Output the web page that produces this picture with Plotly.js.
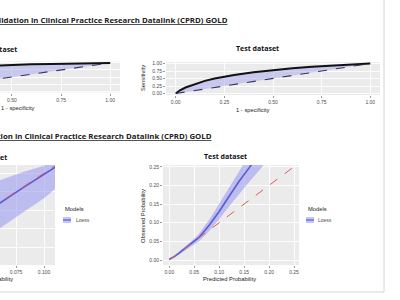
<!DOCTYPE html>
<html>
<head>
<meta charset="utf-8">
<script src="https://cdn.plot.ly/plotly-3.0.1.min.js"></script>
<style>html,body{margin:0;padding:0;background:#fff;}#chart{width:400px;height:300px;}</style>
</head>
<body>
<div id="chart"></div>
<script>
// ---------- DATA ----------
// ROC curves (false positive rate vs sensitivity)
const rocFpr = [0, 0.02, 0.05, 0.1, 0.15, 0.2, 0.25, 0.3, 0.4, 0.5, 0.6, 0.7, 0.8, 0.9, 1];
const rocTrainTpr = [0, 0.40, 0.60, 0.72, 0.79, 0.83, 0.86, 0.88, 0.91, 0.93, 0.95, 0.965, 0.978, 0.99, 1];
const rocTestTpr = [0, 0.10, 0.20, 0.32, 0.42, 0.50, 0.57, 0.62, 0.71, 0.78, 0.84, 0.89, 0.93, 0.97, 1];
const refLine = [0, 1];

// Calibration (training, mostly cropped)
const calTrainPred = [0, 0.02, 0.04, 0.06, 0.08, 0.10, 0.11];
const calTrainObs = [0.001, 0.02, 0.04, 0.059, 0.079, 0.098, 0.108];
const calTrainUpper = [0.01, 0.05, 0.075, 0.090, 0.101, 0.110, 0.118];
const calTrainLower = [-0.008, -0.005, 0.01, 0.025, 0.046, 0.066, 0.079];

// Calibration (test)
const calTestPred = [0, 0.01, 0.02, 0.03, 0.04, 0.05, 0.06, 0.08, 0.10, 0.12, 0.14, 0.16, 0.18, 0.20];
const calTestObs = [0.002, 0.009, 0.019, 0.029, 0.039, 0.049, 0.061, 0.093, 0.130, 0.171, 0.211, 0.247, 0.283, 0.320];
const calTestUpper = [0.005, 0.012, 0.023, 0.034, 0.045, 0.057, 0.071, 0.108, 0.151, 0.198, 0.244, 0.285, 0.326, 0.368];
const calTestLower = [0.000, 0.006, 0.015, 0.024, 0.033, 0.041, 0.051, 0.078, 0.109, 0.144, 0.178, 0.209, 0.240, 0.272];
const calRef = [0, 0.3];

const headerText = "Validation in Clinical Practice Research Datalink (CPRD) GOLD";
const legendTitle = "Models";
const legendItem = "Loess";

// ---------- STYLE ----------
const W = 400, H = 300;
const px = v => v / W;
const py = v => 1 - v / H;
const bg = '#ebebeb';
const tickFont = {family: 'Liberation Sans, Arial, sans-serif', size: 5, color: '#4d4d4d'};
const labFont = {family: 'Liberation Sans, Arial, sans-serif', size: 5.8, color: '#222'};
const ttlFont = {family: 'Open Sans, sans-serif', size: 7, color: '#111', weight: 700};
const hdrFont = {family: 'Open Sans, sans-serif', size: 7.8, color: '#222', weight: 700, lineposition: 'under'};
const rocFill = 'rgba(165,165,240,0.5)';
const bandFill = 'rgba(150,150,240,0.55)';
const loessCol = '#5a5ad4';
const dashCol = '#34346a';

function axis(domain, range, dtick, fmt, extra) {
  return Object.assign({
    domain: domain, range: range, dtick: dtick, tick0: 0, tickformat: fmt,
    showgrid: true, gridcolor: '#ffffff', gridwidth: 0.9,
    minor: {showgrid: true, gridcolor: '#f7f7f7', gridwidth: 0.5, nticks: 2},
    zeroline: false, showline: false, ticks: 'outside', ticklen: 2, tickwidth: 0.6,
    tickcolor: '#555', tickfont: tickFont, fixedrange: true, automargin: false
  }, extra || {});
}

const traces = [
  // Panel 1: training ROC
  {x: refLine, y: refLine, xaxis: 'x', yaxis: 'y', mode: 'lines', line: {width: 0}, showlegend: false, hoverinfo: 'skip'},
  {x: rocFpr, y: rocTrainTpr, xaxis: 'x', yaxis: 'y', mode: 'lines', fill: 'tonexty', fillcolor: rocFill, line: {color: '#111', width: 2}, showlegend: false},
  {x: refLine, y: refLine, xaxis: 'x', yaxis: 'y', mode: 'lines', line: {color: dashCol, width: 1.1, dash: 'dash'}, showlegend: false},
  // Panel 2: test ROC
  {x: refLine, y: refLine, xaxis: 'x2', yaxis: 'y2', mode: 'lines', line: {width: 0}, showlegend: false, hoverinfo: 'skip'},
  {x: rocFpr, y: rocTestTpr, xaxis: 'x2', yaxis: 'y2', mode: 'lines', fill: 'tonexty', fillcolor: rocFill, line: {color: '#111', width: 2}, showlegend: false},
  {x: refLine, y: refLine, xaxis: 'x2', yaxis: 'y2', mode: 'lines', line: {color: dashCol, width: 1.1, dash: 'dash'}, showlegend: false},
  // Panel 3: training calibration
  {x: calTrainPred, y: calTrainLower, xaxis: 'x3', yaxis: 'y3', mode: 'lines', line: {width: 0}, showlegend: false, hoverinfo: 'skip'},
  {x: calTrainPred, y: calTrainUpper, xaxis: 'x3', yaxis: 'y3', mode: 'lines', fill: 'tonexty', fillcolor: bandFill, line: {width: 0}, showlegend: false},
  {x: calTrainPred, y: calTrainObs, xaxis: 'x3', yaxis: 'y3', mode: 'lines', line: {color: loessCol, width: 1.6}, showlegend: false},
  {x: calRef, y: calRef, xaxis: 'x3', yaxis: 'y3', mode: 'lines', line: {color: '#e05a5a', width: 1, dash: 'dash'}, showlegend: false},
  // Panel 4: test calibration
  {x: calTestPred, y: calTestLower, xaxis: 'x4', yaxis: 'y4', mode: 'lines', line: {width: 0}, showlegend: false, hoverinfo: 'skip'},
  {x: calTestPred, y: calTestUpper, xaxis: 'x4', yaxis: 'y4', mode: 'lines', fill: 'tonexty', fillcolor: bandFill, line: {width: 0}, showlegend: false},
  {x: calTestPred, y: calTestObs, xaxis: 'x4', yaxis: 'y4', mode: 'lines', line: {color: loessCol, width: 1.6}, showlegend: false},
  {x: calRef, y: calRef, xaxis: 'x4', yaxis: 'y4', mode: 'lines', line: {color: '#e05a5a', width: 1, dash: 'dash'}, showlegend: false}
];

function ann(text, x, y, font, opts) {
  return Object.assign({text: text, x: px(x), y: py(y), xref: 'paper', yref: 'paper', showarrow: false,
    font: font, xanchor: 'center', yanchor: 'middle'}, opts || {});
}

const layout = {
  width: W, height: H,
  margin: {l: 0, r: 0, t: 0, b: 0, pad: 0},
  paper_bgcolor: '#ffffff', plot_bgcolor: bg, showlegend: false,
  xaxis: axis([0, px(120)], [0.439, 1.05], 0.25, '.2f', {anchor: 'y'}),
  yaxis: axis([py(92.5), py(61.5)], [-0.05, 1.05], 0.25, '.2f', {anchor: 'x', showticklabels: false, ticks: ''}),
  xaxis2: axis([px(166), px(380)], [-0.05, 1.05], 0.25, '.2f', {anchor: 'y2'}),
  yaxis2: axis([py(95), py(62)], [-0.05, 1.05], 0.25, '.2f', {anchor: 'x2'}),
  xaxis3: axis([0, px(55)], [0.0607, 0.1098], 0.025, '.3f', {anchor: 'y3'}),
  yaxis3: axis([py(265), py(165)], [-0.024, 0.111], 0.025, '.3f', {anchor: 'x3', showticklabels: false, ticks: ''}),
  xaxis4: axis([px(163), px(299)], [-0.0126, 0.26], 0.05, '.2f', {anchor: 'y4'}),
  yaxis4: axis([py(265), py(165)], [-0.0134, 0.2547], 0.05, '.2f', {anchor: 'x4'}),
  annotations: [
    ann(headerText, -13, 20, hdrFont, {xanchor: 'left'}),
    ann(headerText, -29, 136, hdrFont, {xanchor: 'left'}),
    ann('Training dataset', 19, 49, ttlFont, {xanchor: 'right'}),
    ann('Test dataset', 257, 48, ttlFont),
    ann('Training dataset', 9, 157, ttlFont, {xanchor: 'right'}),
    ann('Test dataset', 226, 156, ttlFont),
    ann('1 - specificity', 37, 108, labFont, {xanchor: 'right'}),
    ann('1 - specificity', 253, 110, labFont),
    ann('Sensitivity', 143, 78, labFont, {textangle: -90}),
    ann('Predicted Probability', 15, 279, labFont, {xanchor: 'right'}),
    ann('Predicted Probability', 229, 279, labFont),
    ann('Observed Probability', 143, 216, labFont, {textangle: -90}),
    ann(legendTitle, 63, 209, labFont, {xanchor: 'left'}),
    ann(legendItem, 74, 220, tickFont, {xanchor: 'left'}),
    ann(legendTitle, 306, 209, labFont, {xanchor: 'left'}),
    ann(legendItem, 316, 220, tickFont, {xanchor: 'left'})
  ],
  shapes: [
    {type: 'rect', xref: 'paper', yref: 'paper', x0: px(63), x1: px(71), y0: py(223), y1: py(217), fillcolor: bandFill, line: {width: 0}},
    {type: 'line', xref: 'paper', yref: 'paper', x0: px(63), x1: px(71), y0: py(220), y1: py(220), line: {color: loessCol, width: 1.2}},
    {type: 'rect', xref: 'paper', yref: 'paper', x0: px(306), x1: px(314), y0: py(223), y1: py(217), fillcolor: bandFill, line: {width: 0}},
    {type: 'line', xref: 'paper', yref: 'paper', x0: px(306), x1: px(314), y0: py(220), y1: py(220), line: {color: loessCol, width: 1.2}},
    {type: 'line', xref: 'paper', yref: 'paper', x0: px(384), x1: px(384), y0: py(0), y1: py(292), line: {color: '#d6d6d6', width: 1}},
    {type: 'line', xref: 'paper', yref: 'paper', x0: px(0), x1: px(384), y0: py(292), y1: py(292), line: {color: '#d6d6d6', width: 1}}
  ]
};

Plotly.newPlot('chart', traces, layout, {staticPlot: true, displayModeBar: false});
</script>
</body>
</html>
